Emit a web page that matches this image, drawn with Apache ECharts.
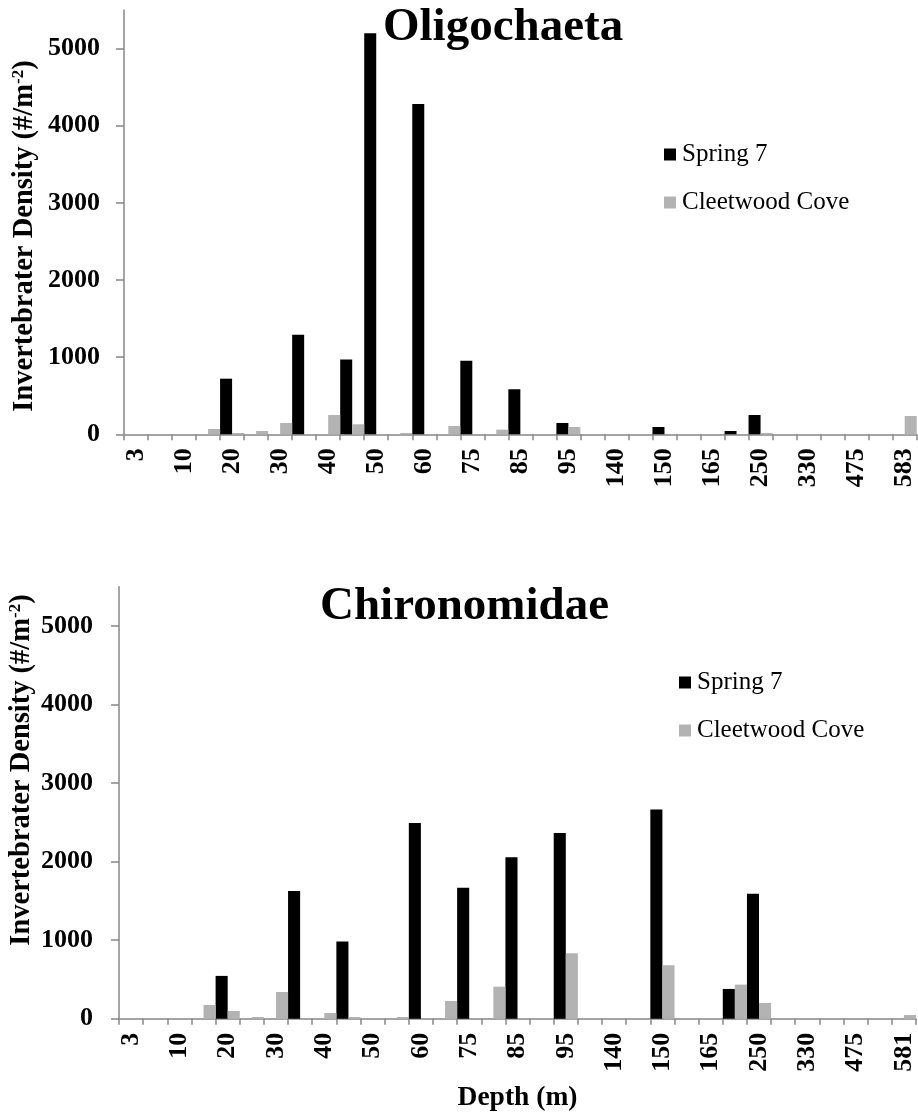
<!DOCTYPE html>
<html>
<head>
<meta charset="utf-8">
<script src="https://cdn.jsdelivr.net/npm/echarts@6/dist/echarts.min.js"></script>
<style>
  html, body { margin: 0; padding: 0; background: #fff; }
  #chart { width: 918px; height: 1115px; }
</style>
</head>
<body>
<div id="chart"></div>
<script>
// Depth categories (m); only every other sampling depth carries a printed label
const depthLabelsOligo = ['3','','10','','20','','30','','40','','50','','60','','75','','85','','95','','140','','150','','165','','250','','330','','475','','583'];
const depthLabelsChiro = ['3','','10','','20','','30','','40','','50','','60','','75','','85','','95','','140','','150','','165','','250','','330','','475','','581'];

// Oligochaeta density (#/m^2)
const oligoSpring7 = [0,0,0,0,721,0,0,1292,0,968,5200,0,4280,0,955,0,584,0,147,0,0,0,95,0,0,43,250,0,0,0,0,0,0];
const oligoCleetwood = [0,0,0,69,17,43,147,0,250,130,0,17,0,108,0,60,0,0,95,0,0,0,0,0,0,0,17,0,0,0,0,0,237];

// Chironomidae density (#/m^2)
const chiroSpring7 = [0,0,0,0,545,0,0,1625,0,982,0,0,2492,0,1667,0,2054,0,2365,0,0,0,2662,0,0,379,1590,0,0,0,0,0,0];
const chiroCleetwood = [0,0,0,175,98,22,340,0,73,22,0,22,0,226,0,408,0,0,834,0,0,0,681,0,0,434,200,0,0,0,0,0,47];

// Density axis ticks
const densityTicks = [0,1000,2000,3000,4000,5000];
const densityMax = 5500;

const serif = '"Liberation Serif", "Times New Roman", serif';
const axisGrey = '#878787';
const black = '#000000';
const grey = '#b3b3b3';

function xAxisFor(gridIndex, labels, withName) {
  const ax = {
    type: 'category',
    gridIndex: gridIndex,
    data: labels,
    boundaryGap: true,
    axisLine: { show: true, lineStyle: { color: axisGrey, width: 1.5 } },
    axisTick: { show: true, interval: 0, length: 6, lineStyle: { color: axisGrey, width: 1.5 } },
    axisLabel: {
      interval: 1, rotate: 90, margin: 14,
      fontFamily: serif, fontWeight: 'bold', fontSize: 26, color: black
    },
    splitLine: { show: false }
  };
  if (withName) {
    ax.name = 'Depth (m)';
    ax.nameLocation = 'middle';
    ax.nameGap = 65;
    ax.nameTextStyle = { fontFamily: serif, fontWeight: 'bold', fontSize: 27.5, lineHeight: 28, color: black };
  }
  return ax;
}

function yAxisFor(gridIndex, margin) {
  return {
    type: 'value',
    gridIndex: gridIndex,
    min: 0,
    max: densityMax,
    interval: 1000,
    axisLine: { show: true, lineStyle: { color: axisGrey, width: 1.5 } },
    axisTick: { show: true, length: 8, customValues: densityTicks, lineStyle: { color: axisGrey, width: 1.5 } },
    axisLabel: {
      customValues: densityTicks, margin: margin,
      formatter: function (v) { return String(v); },
      fontFamily: serif, fontWeight: 'bold', fontSize: 26, color: black
    },
    splitLine: { show: false }
  };
}

function barSeries(name, data, idx, color) {
  return {
    name: name,
    type: 'bar',
    xAxisIndex: idx,
    yAxisIndex: idx,
    data: data,
    barGap: '0%',
    barCategoryGap: '0%',
    itemStyle: { color: color },
    emphasis: { disabled: true },
    animation: false
  };
}

function legendAt(left, top) {
  return {
    orient: 'vertical',
    left: left,
    top: top,
    icon: 'rect',
    itemWidth: 12,
    itemHeight: 12,
    itemGap: 23,
    selectedMode: false,
    data: ['Spring 7', 'Cleetwood Cove'],
    textStyle: { fontFamily: serif, fontSize: 25, lineHeight: 24, color: black, padding: [0, 0, 0, 1] }
  };
}

function densityName(x, y) {
  return {
    type: 'text',
    x: x,
    y: y,
    rotation: Math.PI / 2,
    style: {
      text: '{a|Invertebrater Density (#/m}{s|-2}{a|)}',
      align: 'center',
      verticalAlign: 'middle',
      fill: black,
      rich: {
        a: { fontFamily: serif, fontWeight: 'bold', fontSize: 28.5, lineHeight: 30, fill: black },
        s: { fontFamily: serif, fontWeight: 'bold', fontSize: 17, lineHeight: 17, verticalAlign: 'top', fill: black }
      }
    }
  };
}

const chart = echarts.init(document.getElementById('chart'), null, { renderer: 'canvas' });
chart.setOption({
  backgroundColor: '#ffffff',
  animation: false,
  title: [
    { text: 'Oligochaeta', left: 383, top: 4, padding: 0,
      textStyle: { fontFamily: serif, fontWeight: 'bold', fontSize: 47, lineHeight: 47, color: black } },
    { text: 'Chironomidae', left: 320, top: 583, padding: 0,
      textStyle: { fontFamily: serif, fontWeight: 'bold', fontSize: 47, lineHeight: 47, color: black } }
  ],
  legend: [ legendAt(659, 137), legendAt(674, 665) ],
  grid: [
    { left: 124, right: 1.3, top: 10, bottom: 680.7, containLabel: false, outerBoundsMode: 'none' },
    { left: 119, right: 2, top: 586.7, bottom: 96.3, containLabel: false, outerBoundsMode: 'none' }
  ],
  xAxis: [ xAxisFor(0, depthLabelsOligo, false), xAxisFor(1, depthLabelsChiro, true) ],
  yAxis: [ yAxisFor(0, 24), yAxisFor(1, 26) ],
  series: [
    barSeries('Spring 7', oligoSpring7, 0, black),
    barSeries('Cleetwood Cove', oligoCleetwood, 0, grey),
    barSeries('Spring 7', chiroSpring7, 1, black),
    barSeries('Cleetwood Cove', chiroCleetwood, 1, grey)
  ],
  graphic: [ densityName(25, 236), densityName(22, 770) ]
});
</script>
</body>
</html>
